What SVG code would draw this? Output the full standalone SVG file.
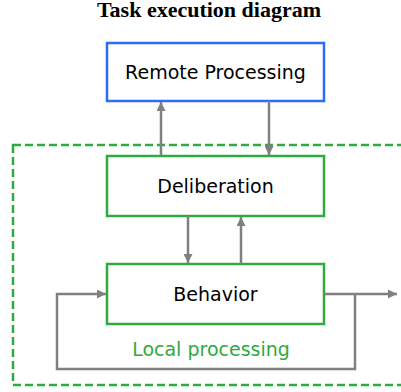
<svg xmlns="http://www.w3.org/2000/svg" width="401" height="392" viewBox="0 0 401 392">
<style>
.box{fill:#fff;stroke-width:2.5}
.blue{stroke:#2b6ef5}
.green{stroke:#2eaa3e}
.lbl{font-family:"DejaVu Sans",sans-serif;font-size:19px;text-anchor:middle;fill:#000}
.conn{fill:none;stroke:#808080;stroke-width:2.5}
</style>
<defs>
<marker id="ah" markerWidth="9" markerHeight="9" refX="9" refY="4.5" orient="auto" markerUnits="userSpaceOnUse">
<path d="M0,0 L9,4.5 L0,9 Z" fill="#808080"/>
</marker>
</defs>
<rect fill="#fff" width="401" height="392"/>
<text x="209" y="17" font-family="Liberation Serif,serif" font-weight="bold" font-size="22" text-anchor="middle">Task execution diagram</text>
<g id="local">
<rect x="13" y="145" width="400" height="240" fill="none" stroke="#2eaa3e" stroke-width="2.5" stroke-dasharray="8,4"/>
<text x="211" y="356" font-family="DejaVu Sans,sans-serif" font-size="19" text-anchor="middle" fill="#2eaa3e">Local processing</text>
</g>
<g id="remote"><rect class="box blue" x="107" y="43" width="217" height="58"/><text class="lbl" x="215.5" y="78.5">Remote Processing</text></g>
<g id="deliberation"><rect class="box green" x="107" y="156" width="217" height="60"/><text class="lbl" x="215.5" y="192.5">Deliberation</text></g>
<g id="behavior"><rect class="box green" x="107" y="264" width="217" height="60"/><text class="lbl" x="215.5" y="300.5">Behavior</text></g>
<g id="connectors">
<path class="conn" d="M161,156 V102" marker-end="url(#ah)"/>
<path class="conn" d="M269,101 V155" marker-end="url(#ah)"/>
<path class="conn" d="M188,216 V263" marker-end="url(#ah)"/>
<path class="conn" d="M241,264 V217" marker-end="url(#ah)"/>
<path class="conn" d="M324,294 H397" marker-end="url(#ah)"/>
<path class="conn" d="M355,294 V369 H57 V294 H106" marker-end="url(#ah)"/>
</g>
</svg>
